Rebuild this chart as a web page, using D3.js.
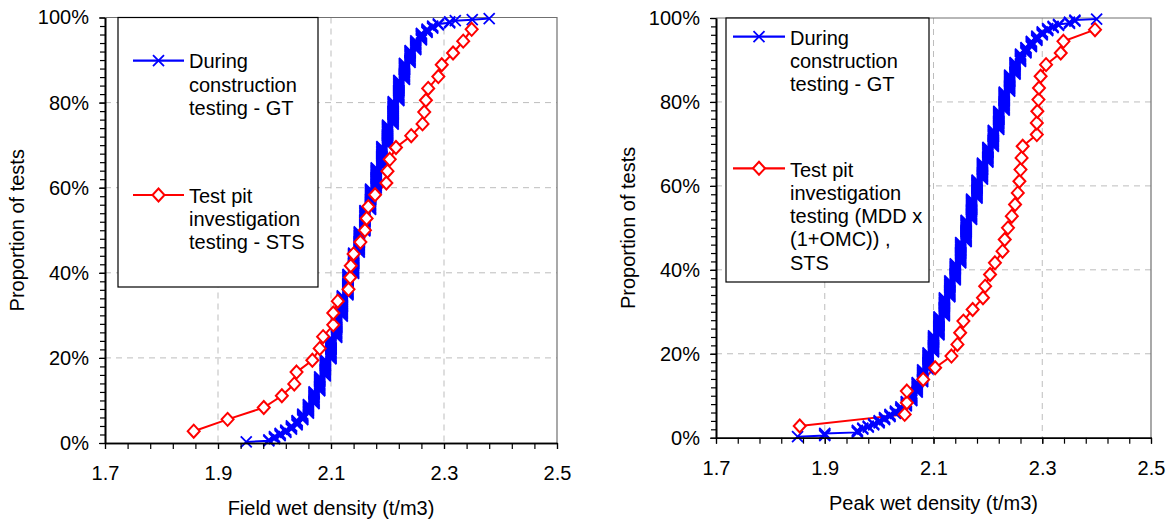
<!DOCTYPE html>
<html>
<head>
<meta charset="utf-8">
<script src="https://cdn.jsdelivr.net/npm/d3@7"></script>
<style>
  body { margin: 0; background: #fff; }
  svg text { font-family: "Liberation Sans", Arial, sans-serif; fill: #000; }
</style>
</head>
<body>
<svg id="chart" width="1176" height="525"></svg>
<script>
// ---- DATA ------------------------------------------------------------

// left chart: field wet density, during construction testing (GT)
// density (t/m3) and number of tests at that density
const fieldGtDensity = [1.95, 1.99, 2.00, 2.01, 2.02, 2.03, 2.04, 2.05, 2.06, 2.07, 2.08, 2.09,
  2.10, 2.11, 2.12, 2.13, 2.14, 2.15, 2.16, 2.17, 2.18, 2.19, 2.20,
  2.21, 2.22, 2.23, 2.24, 2.25, 2.26, 2.27, 2.28, 2.29, 2.31, 2.32, 2.35, 2.38];
const fieldGtCount = [1, 2, 3, 3, 3, 4, 5, 6, 9, 12, 14, 16,
  20, 20, 20, 20, 20, 20, 20, 20, 20, 20, 20,
  22, 20, 16, 12, 9, 7, 4, 3, 2, 2, 1, 1, 1];

// left chart: test pit investigation testing (STS), sorted densities
const fieldStsDensity = [1.857, 1.917, 1.981, 2.013, 2.035, 2.039, 2.067, 2.080, 2.086, 2.104,
  2.104, 2.112, 2.131, 2.134, 2.135, 2.140, 2.152, 2.160, 2.163, 2.166,
  2.178, 2.198, 2.200, 2.204, 2.215, 2.242, 2.262, 2.265, 2.268, 2.272,
  2.290, 2.296, 2.316, 2.334, 2.349];

// right chart: peak wet density, during construction testing (GT)
const peakGtDensity = [1.85, 1.90, 1.96, 1.97, 1.98, 1.99,
  2.00, 2.01, 2.02, 2.03, 2.04, 2.05, 2.06, 2.07, 2.08, 2.09,
  2.10, 2.11, 2.12, 2.13, 2.14, 2.15, 2.16, 2.17, 2.18, 2.19,
  2.20, 2.21, 2.22, 2.23, 2.24, 2.25, 2.26, 2.27, 2.28, 2.29,
  2.30, 2.31, 2.32, 2.33, 2.35, 2.36, 2.40];
const peakGtCount = [1, 3, 3, 2, 2, 2,
  3, 3, 3, 3, 4, 5, 8, 10, 12, 16,
  16, 18, 18, 16, 16, 20, 21, 20, 18, 16,
  15, 16, 18, 18, 16, 12, 8, 6, 6, 5,
  4, 3, 2, 2, 2, 2, 1];

// right chart: test pit investigation testing (MDD x (1+OMC)), STS
const peakStsDensity = [1.854, 2.047, 2.051, 2.051, 2.081, 2.103, 2.133, 2.144, 2.149, 2.155,
  2.172, 2.191, 2.195, 2.204, 2.213, 2.227, 2.231, 2.237, 2.244, 2.250,
  2.255, 2.258, 2.260, 2.262, 2.264, 2.290, 2.290, 2.291, 2.293, 2.294,
  2.297, 2.307, 2.334, 2.339, 2.397];

const xTicks = [1.7, 1.9, 2.1, 2.3, 2.5];
const xGrid = [1.9, 2.1, 2.3];
const yTicks = [0, 0.2, 0.4, 0.6, 0.8, 1.0];
const yGrid = [0.2, 0.4, 0.6, 0.8];

const gtLabel = ["During", "construction", "testing - GT"];
const fieldStsLabel = ["Test pit", "investigation", "testing - STS"];
const peakStsLabel = ["Test pit", "investigation", "testing (MDD x", "(1+OMC)) ,", "STS"];

// ---- HELPERS ---------------------------------------------------------

function expand(dens, counts) {
  return dens.flatMap((d, i) => d3.range(counts[i]).map(() => d));
}
// proportion of tests at or below each value (rank / (n+1))
function cdf(vals) {
  const n = vals.length;
  return vals.map((v, i) => ({v: v, p: (i + 1) / (n + 1)}));
}

const svg = d3.select('#chart');
const BLUE = '#0000ff', RED = '#ff0000';
const xPath = 'M-5.5,-5.5L5.5,5.5M-5.5,5.5L5.5,-5.5';
const diamond = 'M0,-6.5L6,0L0,6.5L-6,0Z';

function drawPanel(cfg) {
  const g = svg.append('g');
  const x = d3.scaleLinear().domain([1.7, 2.5]).range([cfg.left, cfg.right]);
  const y = d3.scaleLinear().domain([0, 1]).range([cfg.bottom, cfg.top]);

  // gridlines
  g.append('g').selectAll('line').data(xGrid).join('line')
    .attr('x1', d => x(d)).attr('x2', d => x(d))
    .attr('y1', cfg.top).attr('y2', cfg.bottom)
    .attr('stroke', '#bdbdbd').attr('stroke-dasharray', '6,5');
  g.append('g').selectAll('line').data(yGrid).join('line')
    .attr('x1', cfg.left).attr('x2', cfg.right)
    .attr('y1', d => y(d)).attr('y2', d => y(d))
    .attr('stroke', '#bdbdbd').attr('stroke-dasharray', '6,5');

  // frame (top, right)
  g.append('path')
    .attr('d', `M${cfg.left},${cfg.top}H${cfg.right}V${cfg.bottom}`)
    .attr('fill', 'none').attr('stroke', '#707070').attr('stroke-width', 1.2);

  const gt = cdf(expand(cfg.gtDensity, cfg.gtCount));
  const sts = cdf(cfg.stsDensity);
  const line = d3.line().x(d => x(d.v)).y(d => y(d.p));

  g.append('path').datum(gt).attr('d', line)
    .attr('fill', 'none').attr('stroke', BLUE).attr('stroke-width', 2);
  g.append('path').datum(sts).attr('d', line)
    .attr('fill', 'none').attr('stroke', RED).attr('stroke-width', 2);

  g.append('g').selectAll('path').data(gt).join('path')
    .attr('transform', d => `translate(${x(d.v)},${y(d.p)})`)
    .attr('d', xPath).attr('stroke', BLUE).attr('stroke-width', 1.8).attr('fill', 'none');
  g.append('g').selectAll('path').data(sts).join('path')
    .attr('transform', d => `translate(${x(d.v)},${y(d.p)})`)
    .attr('d', diamond).attr('stroke', RED).attr('stroke-width', 2).attr('fill', '#fff');

  // axes
  const yMinor = g.append('g').attr('transform', `translate(${cfg.left},0)`)
    .call(d3.axisLeft(y).tickValues(d3.range(0, 1.001, 0.02)).tickSize(5).tickSizeOuter(0).tickFormat(''));
  const yMajor = g.append('g').attr('transform', `translate(${cfg.left},0)`)
    .call(d3.axisLeft(y).tickValues(yTicks).tickSize(6).tickSizeOuter(0).tickPadding(10)
      .tickFormat(d3.format('.0%')));
  const xMinor = g.append('g').attr('transform', `translate(0,${cfg.bottom})`)
    .call(d3.axisBottom(x).tickValues(d3.range(1.7, 2.5001, 0.04)).tickSize(6).tickSizeOuter(0).tickFormat(''));
  const xMajor = g.append('g').attr('transform', `translate(0,${cfg.bottom})`)
    .call(d3.axisBottom(x).tickValues(xTicks).tickSize(6).tickSizeOuter(0).tickPadding(cfg.xPad)
      .tickFormat(d3.format('.1f')));
  [yMinor, yMajor, xMinor, xMajor].forEach(a => {
    a.attr('font-size', 20).attr('font-family', null);
    a.selectAll('line').attr('stroke', '#000').attr('stroke-width', 1.2);
    a.select('.domain').attr('stroke', '#000').attr('stroke-width', 1.6);
  });

  // axis titles
  g.append('text')
    .attr('x', (cfg.left + cfg.right) / 2).attr('y', cfg.xTitleY)
    .attr('text-anchor', 'middle').attr('font-size', 20)
    .text(cfg.xTitle);
  g.append('text')
    .attr('transform', `translate(${cfg.yTitleX},${(cfg.top + cfg.bottom) / 2}) rotate(-90)`)
    .attr('text-anchor', 'middle').attr('dy', '0.35em').attr('font-size', 20)
    .text('Proportion of tests');

  // legend
  const lg = cfg.legend;
  g.append('rect')
    .attr('x', lg.x).attr('y', lg.y).attr('width', lg.w).attr('height', lg.h)
    .attr('fill', '#fff').attr('stroke', '#000').attr('stroke-width', 1.2);
  const items = [
    {color: BLUE, shape: xPath, fill: 'none', sw: 1.8, ly: lg.blueY, ty: lg.blueText, lines: gtLabel},
    {color: RED, shape: diamond, fill: '#fff', sw: 2, ly: lg.redY, ty: lg.redText, lines: cfg.stsLabel}
  ];
  items.forEach(it => {
    g.append('line').attr('x1', lg.lineX0).attr('x2', lg.lineX1)
      .attr('y1', it.ly).attr('y2', it.ly)
      .attr('stroke', it.color).attr('stroke-width', 2.2);
    g.append('path').attr('d', it.shape)
      .attr('transform', `translate(${(lg.lineX0 + lg.lineX1) / 2},${it.ly})`)
      .attr('stroke', it.color).attr('stroke-width', it.sw).attr('fill', it.fill);
    g.append('text').attr('font-size', 20)
      .selectAll('tspan').data(it.lines).join('tspan')
      .attr('x', lg.textX).attr('y', (d, i) => it.ty + i * lg.lineH)
      .text(d => d);
  });
}

drawPanel({
  left: 105, right: 557, top: 17.5, bottom: 443,
  xPad: 17, xTitleY: 515, yTitleX: 17,
  xTitle: 'Field wet density (t/m3)',
  gtDensity: fieldGtDensity, gtCount: fieldGtCount, stsDensity: fieldStsDensity,
  stsLabel: fieldStsLabel,
  legend: {x: 118, y: 17.5, w: 200, h: 269.5, lineX0: 133, lineX1: 184, textX: 189, lineH: 23.3,
    blueY: 60.7, blueText: 68.3, redY: 195, redText: 202.5}
});

drawPanel({
  left: 716, right: 1151, top: 18, bottom: 437.7,
  xPad: 17, xTitleY: 510, yTitleX: 627.5,
  xTitle: 'Peak wet density (t/m3)',
  gtDensity: peakGtDensity, gtCount: peakGtCount, stsDensity: peakStsDensity,
  stsLabel: peakStsLabel,
  legend: {x: 726, y: 18, w: 203, h: 264, lineX0: 733, lineX1: 785, textX: 790, lineH: 23.3,
    blueY: 36.7, blueText: 44.5, redY: 168.3, redText: 176.5}
});
</script>
</body>
</html>
